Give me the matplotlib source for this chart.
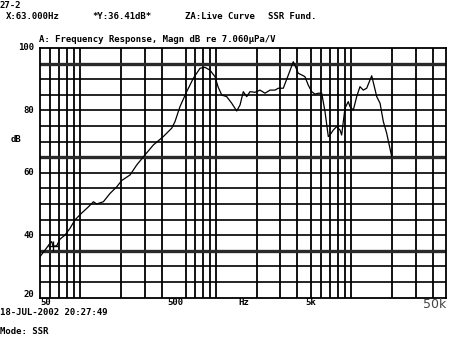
import numpy as np
import matplotlib
matplotlib.use("Agg")
import matplotlib.pyplot as plt
from matplotlib.transforms import blended_transform_factory

# measured response (Hz, dB)
freq = [50.4, 54.9, 59.8, 61.5, 63.0, 67.0, 70.8, 77.1, 84, 91.4, 102, 115, 125, 132,
        148, 166, 186, 202, 233, 261, 300, 346, 410, 473, 500, 544, 610, 683, 765,
        832, 906, 987, 1040, 1107, 1204, 1310, 1427, 1509, 1596, 1691, 1789, 1947,
        2120, 2308, 2512, 2735, 2891, 3148, 3428, 3732, 4064, 4425, 4550, 4815, 5100,
        5397, 5710, 6049, 6398, 6766, 6963, 7365, 7800, 8255, 8490, 8983, 9500, 9780,
        10350, 10960, 11590, 12260, 12990, 14150, 15410, 16300, 17240, 18240, 19870]
mag = [33.1, 35.2, 37.4, 37.9, 36.4, 36.6, 38.7, 40.0, 42.2, 44.9, 47.0, 49.1, 50.7, 50.0,
       50.7, 53.4, 55.5, 57.5, 59.3, 62.5, 65.7, 68.9, 71.6, 74.3, 76.4, 81.2, 86.0, 90.3, 93.5,
       93.8, 92.9, 90.8, 87.5, 84.9, 84.4, 82.3, 79.8, 81.7, 86.0, 84.4, 86.0, 85.8,
       86.5, 85.5, 86.5, 86.5, 87.1, 87.1, 91.3, 95.6, 91.9, 91.1, 90.8, 88.1, 86.0,
       85.2, 85.5, 85.5, 79.6, 71.6, 72.1, 73.7, 74.8, 73.7, 72.1, 80.7, 82.8, 81.2,
       80.1, 84.4, 87.6, 86.5, 87.1, 91.1, 84.4, 82.3, 76.4, 72.7, 65.2]

cursor_f, cursor_db = 63.0, 36.41

vgrid = [60, 70, 80, 90, 100, 200, 300, 400, 600, 700, 800, 900, 1000,
         2000, 3000, 4000, 5000, 6000, 7000, 8000, 9000, 10000, 20000, 30000, 40000]
hgrid = [25, 30, 40, 45, 50, 55, 60, 70, 75, 80, 85, 90]
hgrid_thick = [35, 65, 95]
ylabels = [100, 80, 60, 40, 20]
xlabels = [(50, "50"), (500, "500"), (5000, "5k")]

W, H = 450, 338
fig = plt.figure(figsize=(W / 100, H / 100), dpi=100)
fig.patch.set_facecolor("white")
L, R, T, B = 39.5, 446, 48, 297.5
ax = fig.add_axes([L / W, 1 - B / H, (R - L) / W, (B - T) / H])
ax.set_xscale("log")
ax.set_xlim(50, 50000)
ax.set_ylim(20, 100)
ax.set_xticks([])
ax.set_yticks([])
ax.minorticks_off()
for s in ax.spines.values():
    s.set_linewidth(1.3)
    s.set_color("black")

for v in vgrid:
    ax.axvline(v, color="black", lw=1.3, zorder=1)
for h in hgrid:
    ax.axhline(h, color="black", lw=1.2, zorder=1)
for h in hgrid_thick:
    ax.axhline(h, color="#2a2a2a", lw=2.4, zorder=1)

ax.plot(freq, mag, color="black", lw=0.9, zorder=3)
ax.plot([cursor_f], [cursor_db], marker="+", ms=7, mew=1.0, color="black", zorder=4)

mono = dict(family="DejaVu Sans Mono", weight="bold", fontsize=6.5, color="black")

def ftext(x, y, s, **kw):
    d = dict(mono)
    d.update(kw)
    fig.text(x / W, 1 - y / H, s, **d)

ftext(0, 1, "27-2", va="top")
ftext(6, 12, "X:63.000Hz", va="top")
ftext(92, 12, "*Y:36.41dB*", va="top")
ftext(185, 12, "ZA:Live Curve", va="top")
ftext(268, 12, "SSR Fund.", va="top")
ftext(39, 35, "A: Frequency Response, Magn dB re 7.060\u00b5Pa/V", va="top")
ftext(11, 140, "dB", va="center")
ftext(0, 308, "18-JUL-2002 20:27:49", va="top")
ftext(0, 327, "Mode: SSR", va="top")

ty = blended_transform_factory(fig.transFigure, ax.transData)
for v in ylabels:
    yy = v + 1 if v == 20 else v
    ax.text(34 / W, yy, str(v), transform=ty, ha="right", va="center", **mono)

tx = blended_transform_factory(ax.transData, fig.transFigure)
for f, s in xlabels:
    ha = "left" if f == 50 else "center"
    ax.text(f * (1.02 if f == 50 else 1.0), 1 - 298 / H, s, transform=tx, ha=ha, va="top", **mono)
ax.text(1600, 1 - 298 / H, "Hz", transform=tx, ha="center", va="top", **mono)
ax.text(50000, 1 - 298 / H, "50k", transform=tx, ha="right", va="top",
        family="DejaVu Sans", fontsize=9, color="#444444")

fig.savefig("out.png", dpi=100, facecolor="white")
